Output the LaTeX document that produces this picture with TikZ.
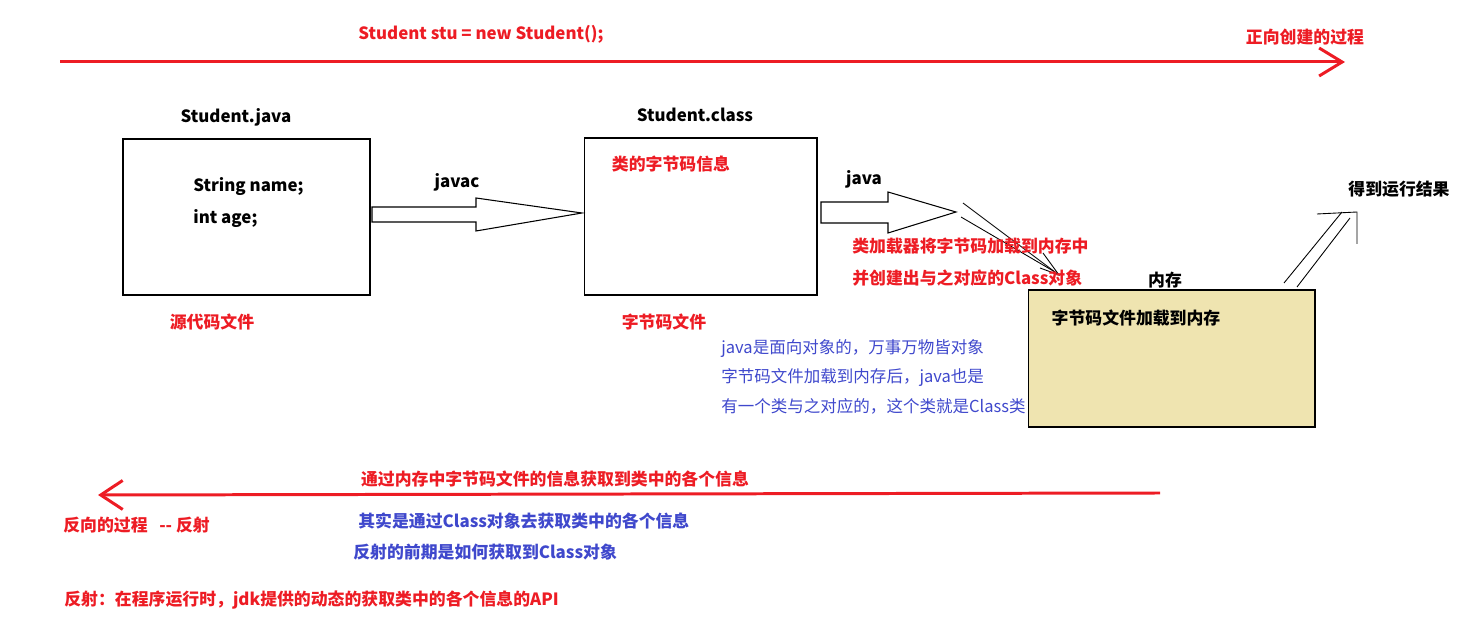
\documentclass[tikz,border=0pt]{standalone}
\usepackage{fontspec}
\setmainfont{Noto Sans CJK SC}
\usetikzlibrary{arrows.meta}

\definecolor{pred}{RGB}{237,28,36}
\definecolor{pblue}{RGB}{63,72,204}
\definecolor{ptan}{RGB}{239,228,176}

\begin{document}
\begin{tikzpicture}[x=0.02cm,y=-0.02cm,line join=miter,
  redtxt/.style={text=pred,inner sep=0pt,font=\fontsize{9.6}{11}\selectfont\bfseries},
  blktxt/.style={inner sep=0pt,font=\fontsize{9.6}{11}\selectfont\bfseries},
  bluetxt/.style={text=pblue,inner sep=0pt,font=\fontsize{9.4}{11}\selectfont},
  box/.style={draw,line width=0.6pt,inner sep=0pt},
  redline/.style={pred,line width=1.7pt},
  hollow/.style={draw,line width=0.6pt,fill=white},
  handline/.style={line width=0.5pt}]
\useasboundingbox (0,0) rectangle (1472,641);

% forward direction
\coordinate (fwdS) at (60,62);
\coordinate (fwdE) at (1345,62);
\draw[redline,-{Straight Barb[length=0.46cm,width=0.56cm,line width=1.7pt]}] (fwdS) -- (fwdE);
\node[redtxt] (newstu) at (481,34) {Student stu = new Student();};
\node[redtxt] (fwd) at (1305,37) {正向创建的过程};

% source file
\node[box,minimum width=4.94cm,minimum height=3.12cm] (src) at (246.5,217) {};
\node[blktxt] (srcname) at (236,117) {Student.java};
\node[blktxt,anchor=west] (fld1) at (193,187) {String name;};
\node[blktxt,anchor=west] (fld2) at (193,219) {int age;};
\node[redtxt] (srclbl) at (212,322) {源代码文件};

% javac
\draw[hollow] (372,207) -- (476,207) -- (476,198) -- (582,213) -- (476,231)
  -- (476,222) -- (372,222) -- cycle;
\node[blktxt] (javac) at (457,182) {javac};

% class file
\node[box,minimum width=4.66cm,minimum height=3.14cm] (cls) at (700.5,216.5) {};
\node[blktxt] (clsname) at (695,115) {Student.class};
\node[redtxt] (clsinfo) at (671,164) {类的字节码信息};
\node[redtxt] (clslbl) at (664,322) {字节码文件};

% java
\draw[hollow] (821,202) -- (888,202) -- (888,192) -- (956,212) -- (888,233)
  -- (888,223) -- (821,223) -- cycle;
\node[blktxt] (java) at (864,179) {java};
\draw[handline] (963,203) -- (1059,275);
\draw[handline] (961,217) -- (1055,272);
\draw[handline] (1043,253) -- (1059,275) -- (1040,268);
\node[redtxt,anchor=west] (loader1) at (852,246) {类加载器将字节码加载到内存中};
\node[redtxt,anchor=west] (loader2) at (852,278) {并创建出与之对应的Class对象};

% memory
\node[box,fill=ptan,minimum width=5.74cm,minimum height=2.74cm] (mem) at (1171.5,358.5) {};
\node[blktxt] (memname) at (1165,280) {内存};
\node[blktxt] (memtxt) at (1136,318) {字节码文件加载到内存};

% result
\draw[handline] (1284,283) -- (1342,212);
\draw[handline] (1297,287) -- (1350,218);
\draw[handline] (1317,214) -- (1357,212) -- (1357,244);
\node[blktxt] (result) at (1399,189) {得到运行结果};

% note
\node[bluetxt,anchor=west] (note1) at (721,349) {java是面向对象的，万事万物皆对象};
\node[bluetxt,anchor=west] (note2) at (721,378) {字节码文件加载到内存后，java也是};
\node[bluetxt,anchor=west] (note3) at (721,406) {有一个类与之对应的，这个类就是Class类};

% backward direction
\coordinate (bwdS) at (1160,493);
\coordinate (bwdE) at (98,495);
\draw[redline,-{Straight Barb[length=0.44cm,width=0.58cm,line width=1.7pt]}] (bwdS) -- (bwdE);
\node[redtxt] (getinfo) at (555,479) {通过内存中字节码文件的信息获取到类中的各个信息};
\node[redtxt,anchor=west] (bwd) at (63,525) {反向的过程\ \ \ -{}- 反射};
\node[bluetxt,font=\fontsize{9.6}{11}\selectfont\bfseries,anchor=west] (via) at (358,521) {其实是通过Class对象去获取类中的各个信息};
\node[bluetxt,font=\fontsize{9.6}{11}\selectfont\bfseries,anchor=west] (pre) at (353,552) {反射的前期是如何获取到Class对象};
\node[redtxt,anchor=west] (refl) at (64,600) {反射：在程序运行时，jdk提供的动态的获取类中的各个信息的API};
\end{tikzpicture}
\end{document}
